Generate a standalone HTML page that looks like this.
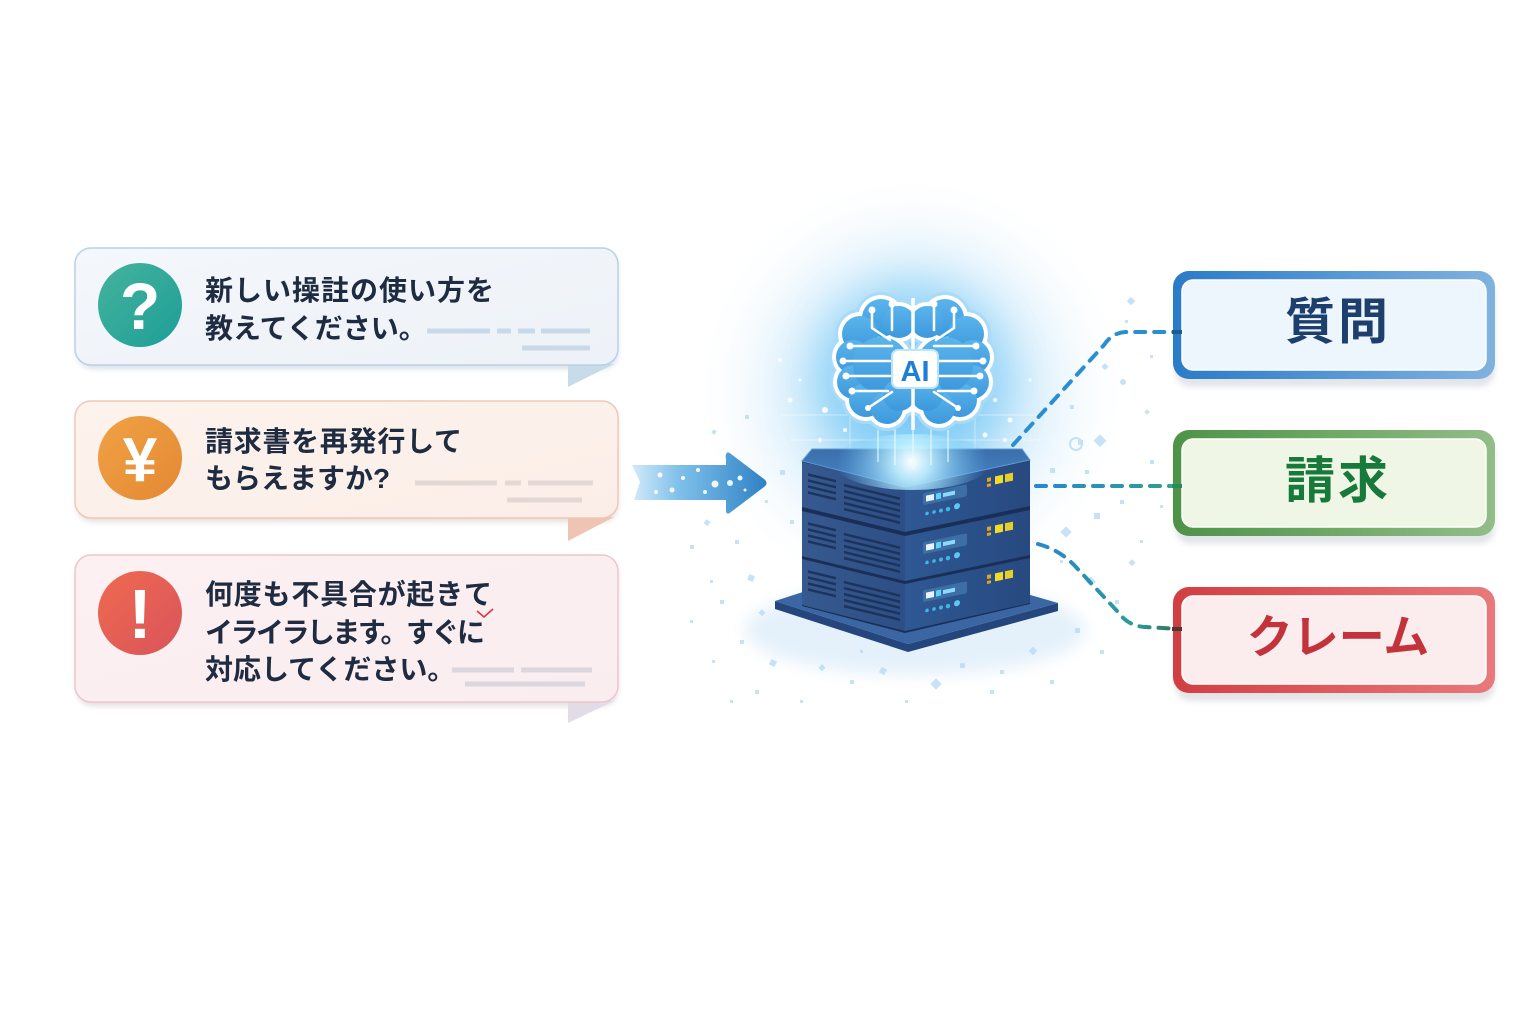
<!DOCTYPE html>
<html><head><meta charset="utf-8">
<style>
html,body{margin:0;padding:0;background:#fff;}
svg{display:block;}
text{font-family:"Liberation Sans","Noto Sans CJK JP",sans-serif;}
</style></head><body>
<svg width="1536" height="1024" viewBox="0 0 1536 1024" xmlns="http://www.w3.org/2000/svg">
<defs>
 <filter id="sh" x="-10%" y="-30%" width="120%" height="170%"><feGaussianBlur stdDeviation="3"/></filter>
 <filter id="bl8" x="-50%" y="-50%" width="200%" height="200%"><feGaussianBlur stdDeviation="8"/></filter>
 <filter id="bl20" x="-50%" y="-50%" width="200%" height="200%"><feGaussianBlur stdDeviation="20"/></filter>
 <radialGradient id="glow" cx="912" cy="390" r="220" gradientUnits="userSpaceOnUse">
  <stop offset="0" stop-color="#5fbdf3" stop-opacity="1"/>
  <stop offset="0.3" stop-color="#93d3f7" stop-opacity="0.8"/>
  <stop offset="0.65" stop-color="#d3ecfb" stop-opacity="0.5"/>
  <stop offset="1" stop-color="#ffffff" stop-opacity="0"/>
 </radialGradient>
 <radialGradient id="flare" cx="912" cy="462" r="75" gradientUnits="userSpaceOnUse">
  <stop offset="0" stop-color="#ffffff" stop-opacity="1"/>
  <stop offset="0.25" stop-color="#bff0ff" stop-opacity="0.9"/>
  <stop offset="1" stop-color="#5fc0f5" stop-opacity="0"/>
 </radialGradient>
 <linearGradient id="b1bg" x1="0" y1="0" x2="1" y2="1"><stop offset="0" stop-color="#f4f7fb"/><stop offset="1" stop-color="#edf2f8"/></linearGradient>
 <linearGradient id="b2bg" x1="0" y1="0" x2="1" y2="1"><stop offset="0" stop-color="#fdf3ec"/><stop offset="1" stop-color="#fbeee8"/></linearGradient>
 <linearGradient id="b3bg" x1="0" y1="0" x2="1" y2="1"><stop offset="0" stop-color="#fcf0f2"/><stop offset="1" stop-color="#faedf0"/></linearGradient>
 <linearGradient id="ic1" x1="0" y1="0" x2="1" y2="1"><stop offset="0" stop-color="#45b39c"/><stop offset="1" stop-color="#1d9e98"/></linearGradient>
 <linearGradient id="ic2" x1="0" y1="0" x2="1" y2="1"><stop offset="0" stop-color="#f0a245"/><stop offset="1" stop-color="#e48833"/></linearGradient>
 <linearGradient id="ic3" x1="0" y1="0" x2="1" y2="1"><stop offset="0" stop-color="#ef6a50"/><stop offset="1" stop-color="#d9545a"/></linearGradient>
 <linearGradient id="arr" x1="630" y1="0" x2="770" y2="0" gradientUnits="userSpaceOnUse">
  <stop offset="0" stop-color="#d6ecfa"/><stop offset="0.35" stop-color="#7fc0ea"/><stop offset="1" stop-color="#2b7fc4"/>
 </linearGradient>
 <linearGradient id="k1" x1="0" y1="0" x2="1" y2="0"><stop offset="0" stop-color="#2a7bc8"/><stop offset="1" stop-color="#80b2df"/></linearGradient>
 <linearGradient id="k2" x1="0" y1="0" x2="1" y2="0"><stop offset="0" stop-color="#4d9347"/><stop offset="1" stop-color="#92bd88"/></linearGradient>
 <linearGradient id="k3" x1="0" y1="0" x2="1" y2="0"><stop offset="0" stop-color="#d23e42"/><stop offset="1" stop-color="#e9797b"/></linearGradient>
 <linearGradient id="lf" x1="0" y1="0" x2="1" y2="0"><stop offset="0" stop-color="#36598f"/><stop offset="1" stop-color="#2d4e86"/></linearGradient>
 <linearGradient id="rf" x1="0" y1="0" x2="1" y2="0"><stop offset="0" stop-color="#2f5894"/><stop offset="1" stop-color="#27497f"/></linearGradient>
 <linearGradient id="tf" x1="0" y1="0" x2="0" y2="1"><stop offset="0" stop-color="#3b6eac"/><stop offset="1" stop-color="#4a86c6"/></linearGradient>
 <linearGradient id="brn" x1="0" y1="0" x2="0" y2="1"><stop offset="0" stop-color="#5ab4ec"/><stop offset="1" stop-color="#3d98dc"/></linearGradient>
 <linearGradient id="d2" x1="1035" y1="0" x2="1180" y2="0" gradientUnits="userSpaceOnUse"><stop offset="0" stop-color="#2a86d0"/><stop offset="1" stop-color="#2ba28c"/></linearGradient>
 <linearGradient id="d3" x1="1035" y1="0" x2="1180" y2="0" gradientUnits="userSpaceOnUse"><stop offset="0" stop-color="#2a86d0"/><stop offset="0.7" stop-color="#2a9c9a"/><stop offset="1" stop-color="#3b6a5a"/></linearGradient>
</defs>

<rect width="1536" height="1024" fill="#ffffff"/>

<!-- ================= BUBBLES ================= -->
<rect x="77" y="252" width="541" height="117" rx="16" fill="#d9e0e8" filter="url(#sh)"/>
<polygon points="568,364 614,364 568,387" fill="#c8dbe9"/>
<rect x="75" y="248" width="543" height="117" rx="16" fill="url(#b1bg)" stroke="#b7d1e6" stroke-width="1.5"/>
<circle cx="140" cy="305" r="42" fill="url(#ic1)"/>
<text x="140" y="329" text-anchor="middle" font-size="66" font-weight="bold" fill="#ffffff">?</text>
<g font-size="28" font-weight="bold" fill="#1e2b40">
 <text x="205" y="300" textLength="289" lengthAdjust="spacing">新しい操註の使い方を</text>
 <text x="205" y="338">教えてください。</text>
</g>
<g stroke="#c9d9e9" stroke-width="5">
 <line x1="427" y1="331" x2="490" y2="331"/><line x1="497" y1="331" x2="511" y2="331"/><line x1="518" y1="331" x2="535" y2="331"/><line x1="541" y1="331" x2="590" y2="331"/>
 <line x1="522" y1="348" x2="590" y2="348"/>
</g>

<rect x="77" y="405" width="541" height="117" rx="16" fill="#e6dedb" filter="url(#sh)"/>
<polygon points="568,517 614,517 568,541" fill="#efc4b2"/>
<rect x="75" y="401" width="543" height="117" rx="16" fill="url(#b2bg)" stroke="#eec8b6" stroke-width="1.5"/>
<circle cx="140" cy="458" r="42" fill="url(#ic2)"/>
<text x="140" y="481" text-anchor="middle" font-size="62" font-weight="bold" fill="#ffffff">¥</text>
<g font-size="28" font-weight="bold" fill="#1e2b40">
 <text x="205" y="451" textLength="257" lengthAdjust="spacing">請求書を再発行して</text>
 <text x="205" y="488">もらえますか?</text>
</g>
<g stroke="#e4d8d4" stroke-width="5">
 <line x1="415" y1="483" x2="497" y2="483"/><line x1="505" y1="483" x2="521" y2="483"/><line x1="528" y1="483" x2="593" y2="483"/>
 <line x1="507" y1="500" x2="582" y2="500"/>
</g>

<rect x="77" y="559" width="541" height="147" rx="16" fill="#e3dde2" filter="url(#sh)"/>
<polygon points="568,701 614,701 568,723" fill="#e2dce6"/>
<rect x="75" y="555" width="543" height="147" rx="16" fill="url(#b3bg)" stroke="#ebc6cd" stroke-width="1.5"/>
<circle cx="140" cy="613" r="42" fill="url(#ic3)"/>
<text x="140" y="638" text-anchor="middle" font-size="70" font-weight="bold" fill="#ffffff">!</text>
<g font-size="28" font-weight="bold" fill="#1e2b40">
 <text x="205" y="604" textLength="287" lengthAdjust="spacing">何度も不具合が起きて</text>
 <text x="205" y="642" textLength="280" lengthAdjust="spacing">イライラします。すぐに</text>
 <text x="205" y="679">対応してください。</text>
</g>
<path d="M477,611 L484,617 L493,609" fill="none" stroke="#e0343a" stroke-width="1.6"/>
<g stroke="#dcd6de" stroke-width="5">
 <line x1="452" y1="670" x2="514" y2="670"/><line x1="521" y1="670" x2="592" y2="670"/>
 <line x1="465" y1="684" x2="585" y2="684"/>
</g>

<!-- ================= GLOW ================= -->
<ellipse cx="912" cy="395" rx="235" ry="215" fill="url(#glow)"/>
<circle cx="912" cy="380" r="95" fill="#7ccbf6" opacity="0.55" filter="url(#bl20)"/>
<ellipse cx="915" cy="630" rx="170" ry="45" fill="#dcecf9" opacity="0.75" filter="url(#bl8)"/>

<!-- particles -->
<g fill="#b5d9f3" opacity="0.75">
 <rect x="712" y="430" width="4" height="4" transform="rotate(30 714 432)"/>
 <rect x="725" y="455" width="3" height="3"/>
 <rect x="705" y="520" width="5" height="5" transform="rotate(40 707 522)"/>
 <rect x="735" y="540" width="4" height="4"/>
 <rect x="748" y="575" width="6" height="6" transform="rotate(20 751 578)"/>
 <rect x="720" y="600" width="4" height="4"/>
 <rect x="760" y="610" width="5" height="5" transform="rotate(45 762 612)"/>
 <rect x="740" y="640" width="4" height="4"/>
 <rect x="712" y="660" width="3" height="3"/>
 <rect x="770" y="660" width="6" height="6" transform="rotate(30 773 663)"/>
 <rect x="755" y="690" width="4" height="4"/>
 <rect x="730" y="700" width="3" height="3"/>
 <rect x="790" y="520" width="4" height="4"/>
 <rect x="780" y="470" width="5" height="5"/>
 <rect x="765" y="500" width="3" height="3"/>
 <rect x="700" y="480" width="3" height="3"/>
 <rect x="745" y="415" width="4" height="4"/>
 <rect x="710" y="580" width="3" height="3"/>
 <rect x="690" y="620" width="3" height="3"/>
 <rect x="820" y="665" width="5" height="5" transform="rotate(45 822 667)"/>
 <rect x="850" y="680" width="4" height="4"/>
 <rect x="880" y="668" width="6" height="6" transform="rotate(30 883 671)"/>
 <rect x="932" y="680" width="8" height="8" transform="rotate(45 936 684)"/>
 <rect x="960" y="663" width="5" height="5"/>
 <rect x="1000" y="670" width="4" height="4"/>
 <rect x="1030" y="648" width="6" height="6" transform="rotate(45 1033 651)"/>
 <rect x="1050" y="680" width="4" height="4"/>
 <rect x="905" y="700" width="3" height="3"/>
 <rect x="990" y="690" width="4" height="4"/>
 <rect x="860" y="650" width="3" height="3"/>
 <rect x="1050" y="468" width="5" height="5"/>
 <rect x="1062" y="528" width="8" height="8" transform="rotate(45 1066 532)"/>
 <rect x="1078" y="440" width="5" height="5"/>
 <rect x="1096" y="436" width="9" height="9" transform="rotate(45 1100 440)"/>
 <rect x="1070" y="405" width="4" height="4"/>
 <rect x="1088" y="578" width="7" height="7" transform="rotate(45 1091 581)"/>
 <rect x="1115" y="600" width="4" height="4"/>
 <rect x="1075" y="628" width="5" height="5"/>
 <rect x="1060" y="560" width="3" height="3"/>
 <rect x="1120" y="500" width="4" height="4"/>
 <rect x="1103" y="364" width="5" height="5" transform="rotate(45 1105 366)"/>
 <rect x="1128" y="298" width="6" height="6" transform="rotate(45 1131 301)"/>
 <rect x="1125" y="320" width="3" height="3"/>
 <rect x="1085" y="470" width="4" height="4"/>
 <rect x="1094" y="513" width="6" height="6"/>
 <rect x="1140" y="540" width="3" height="3"/>
 <rect x="1100" y="650" width="4" height="4"/>
 <rect x="1145" y="410" width="4" height="4" transform="rotate(45 1147 412)"/>
 <rect x="1150" y="355" width="3" height="3"/>
 <circle cx="1123" cy="382" r="3"/>
 <circle cx="1076" cy="444" r="6" fill="none" stroke="#b5d9f3" stroke-width="2"/>
 <rect x="1150" y="460" width="4" height="4"/>
 <rect x="1160" y="505" width="3" height="3"/>
 <rect x="1130" y="560" width="5" height="5" transform="rotate(45 1132 562)"/>
 <rect x="800" y="700" width="3" height="3"/>
 <rect x="690" y="545" width="4" height="4"/>
</g>
<g fill="#ffffff" opacity="0.9">
 <circle cx="790" cy="400" r="2.5"/><circle cx="800" cy="380" r="1.5"/><circle cx="1010" cy="420" r="2.5"/>
 <circle cx="1030" cy="380" r="1.5"/><circle cx="820" cy="440" r="2"/><circle cx="1005" cy="440" r="2"/>
 <circle cx="780" cy="360" r="2"/><circle cx="825" cy="410" r="3"/><circle cx="995" cy="400" r="2"/>
 <circle cx="845" cy="430" r="2"/><circle cx="985" cy="435" r="2.5"/><circle cx="810" cy="455" r="2"/>
</g>
<g stroke="#ffffff" stroke-width="1" opacity="0.45">
 <line x1="780" y1="415" x2="1045" y2="415"/><line x1="790" y1="440" x2="1040" y2="440"/>
 <line x1="850" y1="400" x2="850" y2="460"/><line x1="975" y1="400" x2="975" y2="460"/>
</g>

<!-- ================= ARROW ================= -->
<path d="M632,465 L726,465 L726,456 Q726,450 731,454 L764,479 Q769,483 764,487 L731,512 Q726,516 726,510 L726,500 L634,500 L640,482 Z" fill="url(#arr)"/>
<g fill="#ffffff" opacity="0.9">
 <circle cx="660" cy="475" r="2.5"/><circle cx="683" cy="478" r="2"/><circle cx="698" cy="470" r="2"/>
 <circle cx="715" cy="484" r="3.5"/><circle cx="730" cy="483" r="3"/><circle cx="740" cy="478" r="2.5"/>
 <circle cx="656" cy="492" r="2"/><circle cx="672" cy="490" r="2.5"/><circle cx="705" cy="492" r="2"/><circle cx="745" cy="490" r="1.5"/>
</g>

<!-- ================= CONNECTORS ================= -->
<g fill="none" stroke-width="4" stroke-linecap="round" stroke-dasharray="10 9">
 <path d="M1013,445 L1104,345 Q1112,333 1125,332 L1180,332" stroke="#2b8ed0"/>
 <path d="M1036,486 L1180,486" stroke="url(#d2)"/>
 <path d="M1038,544 Q1060,550 1075,566 L1118,612 Q1128,626 1145,627 L1180,629" stroke="url(#d3)"/>
</g>

<!-- ================= SERVER ================= -->
<polygon points="775,601 908,644 1058,603 1058,611 908,652 775,609" fill="#24467c"/>
<polygon points="775,601 905,559 1058,603 908,644" fill="#3a66a4"/>

<!-- dark silhouette so gaps are dark -->
<polygon points="802,461 812,449 1022,449 1030,460 1030,604 905,633 802,606" fill="#1a2f57"/>

<polygon points="802,559 905,584 905,631 802,605" fill="url(#lf)"/>
<polygon points="905,584 1030,558 1030,603 905,631" fill="url(#rf)"/>
<polygon points="802,511 905,536 905,581 802,556" fill="url(#lf)"/>
<polygon points="905,536 1030,510 1030,555 905,581" fill="url(#rf)"/>
<polygon points="802,462 905,487 905,532 802,507" fill="url(#lf)"/>
<polygon points="905,487 1030,461 1030,506 905,532" fill="url(#rf)"/>
<polygon points="802,461 812,449 1022,449 1030,460 905,487" fill="url(#tf)" stroke="#5c9ad6" stroke-width="1"/>

<g>
 <g transform="translate(802,462) skewY(13.6)" stroke="#1c335c" stroke-width="2.5">
  <line x1="6" y1="11" x2="34" y2="11"/><line x1="6" y1="17" x2="34" y2="17"/><line x1="6" y1="23" x2="34" y2="23"/><line x1="6" y1="29" x2="34" y2="29"/>
  <line x1="42" y1="13" x2="98" y2="13"/><line x1="42" y1="19" x2="98" y2="19"/><line x1="42" y1="25" x2="98" y2="25"/><line x1="42" y1="31" x2="98" y2="31"/><line x1="42" y1="37" x2="98" y2="37"/>
 </g>
 <g transform="translate(905,487) skewY(-11.7)">
  <rect x="18" y="10" width="44" height="12" rx="2" fill="#3c6fa6"/>
  <rect x="21" y="13" width="8" height="6" fill="#e8f4ff"/>
  <rect x="31" y="13" width="5" height="6" fill="#5fd0ff"/>
  <rect x="38" y="14" width="12" height="4" fill="#8fd8ff"/>
  <circle cx="22" cy="31" r="1.8" fill="#3fb6e8"/><circle cx="29" cy="31" r="1.8" fill="#3fb6e8"/><circle cx="36" cy="31" r="2" fill="#3fb6e8"/><circle cx="43" cy="31" r="2.2" fill="#3fb6e8"/><circle cx="52" cy="30" r="3" fill="#5cc8f5"/>
  <rect x="82" y="8" width="4" height="4" fill="#e8a22a"/><rect x="82" y="14" width="4" height="3" fill="#e8a22a"/>
  <rect x="90" y="8" width="8" height="8" fill="#f2dc2a"/><rect x="100" y="8" width="8" height="8" fill="#e8cf26"/>
 </g>
</g>
<g transform="translate(0,49)">
 <g transform="translate(802,462) skewY(13.6)" stroke="#1c335c" stroke-width="2.5">
  <line x1="6" y1="11" x2="34" y2="11"/><line x1="6" y1="17" x2="34" y2="17"/><line x1="6" y1="23" x2="34" y2="23"/><line x1="6" y1="29" x2="34" y2="29"/>
  <line x1="42" y1="13" x2="98" y2="13"/><line x1="42" y1="19" x2="98" y2="19"/><line x1="42" y1="25" x2="98" y2="25"/><line x1="42" y1="31" x2="98" y2="31"/><line x1="42" y1="37" x2="98" y2="37"/>
 </g>
 <g transform="translate(905,487) skewY(-11.7)">
  <rect x="18" y="10" width="44" height="12" rx="2" fill="#3c6fa6"/>
  <rect x="21" y="13" width="8" height="6" fill="#e8f4ff"/>
  <rect x="31" y="13" width="5" height="6" fill="#5fd0ff"/>
  <rect x="38" y="14" width="12" height="4" fill="#8fd8ff"/>
  <circle cx="22" cy="31" r="1.8" fill="#3fb6e8"/><circle cx="29" cy="31" r="1.8" fill="#3fb6e8"/><circle cx="36" cy="31" r="2" fill="#3fb6e8"/><circle cx="43" cy="31" r="2.2" fill="#3fb6e8"/><circle cx="52" cy="30" r="3" fill="#5cc8f5"/>
  <rect x="82" y="8" width="4" height="4" fill="#e8a22a"/><rect x="82" y="14" width="4" height="3" fill="#e8a22a"/>
  <rect x="90" y="8" width="8" height="8" fill="#f2dc2a"/><rect x="100" y="8" width="8" height="8" fill="#e8cf26"/>
 </g>
</g>
<g transform="translate(0,97)">
 <g transform="translate(802,462) skewY(13.6)" stroke="#1c335c" stroke-width="2.5">
  <line x1="6" y1="11" x2="34" y2="11"/><line x1="6" y1="17" x2="34" y2="17"/><line x1="6" y1="23" x2="34" y2="23"/><line x1="6" y1="29" x2="34" y2="29"/>
  <line x1="42" y1="13" x2="98" y2="13"/><line x1="42" y1="19" x2="98" y2="19"/><line x1="42" y1="25" x2="98" y2="25"/><line x1="42" y1="31" x2="98" y2="31"/><line x1="42" y1="37" x2="98" y2="37"/>
 </g>
 <g transform="translate(905,487) skewY(-11.7)">
  <rect x="18" y="10" width="44" height="12" rx="2" fill="#3c6fa6"/>
  <rect x="21" y="13" width="8" height="6" fill="#e8f4ff"/>
  <rect x="31" y="13" width="5" height="6" fill="#5fd0ff"/>
  <rect x="38" y="14" width="12" height="4" fill="#8fd8ff"/>
  <circle cx="22" cy="31" r="1.8" fill="#3fb6e8"/><circle cx="29" cy="31" r="1.8" fill="#3fb6e8"/><circle cx="36" cy="31" r="2" fill="#3fb6e8"/><circle cx="43" cy="31" r="2.2" fill="#3fb6e8"/><circle cx="52" cy="30" r="3" fill="#5cc8f5"/>
  <rect x="82" y="8" width="4" height="4" fill="#e8a22a"/><rect x="82" y="14" width="4" height="3" fill="#e8a22a"/>
  <rect x="90" y="8" width="8" height="8" fill="#f2dc2a"/><rect x="100" y="8" width="8" height="8" fill="#e8cf26"/>
 </g>
</g>

<ellipse cx="912" cy="462" rx="80" ry="28" fill="url(#flare)"/>
<g stroke="#e8fbff" stroke-width="1.5" opacity="0.75">
 <line x1="913" y1="420" x2="913" y2="470"/>
 <line x1="895" y1="425" x2="895" y2="465"/><line x1="931" y1="425" x2="931" y2="465"/>
 <line x1="878" y1="430" x2="878" y2="462"/><line x1="948" y1="430" x2="948" y2="462"/>
</g>

<!-- ================= BRAIN ================= -->
<g fill="#a9daf7">
 <circle cx="881" cy="318" r="26"/><circle cx="860" cy="334" r="25"/><circle cx="853" cy="357" r="24"/><circle cx="854" cy="382" r="24"/><circle cx="866" cy="400" r="24"/><circle cx="887" cy="408" r="23"/><circle cx="899" cy="322" r="23"/><circle cx="881" cy="365" r="35"/><circle cx="900" cy="395" r="23"/>
 <circle cx="945" cy="318" r="26"/><circle cx="966" cy="334" r="25"/><circle cx="973" cy="357" r="24"/><circle cx="972" cy="382" r="24"/><circle cx="960" cy="400" r="24"/><circle cx="939" cy="408" r="23"/><circle cx="927" cy="322" r="23"/><circle cx="945" cy="365" r="35"/><circle cx="926" cy="395" r="23"/>
</g>
<g fill="#ffffff">
 <circle cx="881" cy="318" r="23"/><circle cx="860" cy="334" r="22"/><circle cx="853" cy="357" r="21"/><circle cx="854" cy="382" r="21"/><circle cx="866" cy="400" r="21"/><circle cx="887" cy="408" r="20"/><circle cx="899" cy="322" r="20"/><circle cx="881" cy="365" r="32"/><circle cx="900" cy="395" r="20"/>
 <circle cx="945" cy="318" r="23"/><circle cx="966" cy="334" r="22"/><circle cx="973" cy="357" r="21"/><circle cx="972" cy="382" r="21"/><circle cx="960" cy="400" r="21"/><circle cx="939" cy="408" r="20"/><circle cx="927" cy="322" r="20"/><circle cx="945" cy="365" r="32"/><circle cx="926" cy="395" r="20"/>
</g>
<g fill="url(#brn)">
 <circle cx="881" cy="318" r="19"/><circle cx="860" cy="334" r="18"/><circle cx="853" cy="357" r="17"/><circle cx="854" cy="382" r="17"/><circle cx="866" cy="400" r="17"/><circle cx="887" cy="408" r="16"/><circle cx="899" cy="322" r="16"/><circle cx="881" cy="365" r="28"/><circle cx="899" cy="395" r="16"/>
 <circle cx="945" cy="318" r="19"/><circle cx="966" cy="334" r="18"/><circle cx="973" cy="357" r="17"/><circle cx="972" cy="382" r="17"/><circle cx="960" cy="400" r="17"/><circle cx="939" cy="408" r="16"/><circle cx="927" cy="322" r="16"/><circle cx="945" cy="365" r="28"/><circle cx="927" cy="395" r="16"/>
</g>
<line x1="913" y1="298" x2="913" y2="430" stroke="#ffffff" stroke-width="3.5"/>
<g stroke="#ffffff" stroke-width="2.5" fill="none" stroke-linecap="round">
 <path d="M850,346 L892,346"/><path d="M843,361 L890,361"/><path d="M846,376 L890,376"/><path d="M852,391 L888,391"/>
 <path d="M872,310 L872,328 L890,340"/><path d="M892,304 L892,330"/><path d="M868,408 L892,392"/>
 <path d="M976,346 L934,346"/><path d="M983,361 L936,361"/><path d="M980,376 L936,376"/><path d="M974,391 L938,391"/>
 <path d="M954,310 L954,328 L936,340"/><path d="M934,304 L934,330"/><path d="M958,408 L934,392"/>
</g>
<g fill="#ffffff">
 <circle cx="850" cy="346" r="3.5"/><circle cx="843" cy="361" r="3.5"/><circle cx="846" cy="376" r="3.5"/><circle cx="852" cy="391" r="3.5"/>
 <circle cx="872" cy="310" r="3.5"/><circle cx="892" cy="304" r="3.5"/><circle cx="868" cy="408" r="3"/>
 <circle cx="976" cy="346" r="3.5"/><circle cx="983" cy="361" r="3.5"/><circle cx="980" cy="376" r="3.5"/><circle cx="974" cy="391" r="3.5"/>
 <circle cx="954" cy="310" r="3.5"/><circle cx="934" cy="304" r="3.5"/><circle cx="958" cy="408" r="3"/>
</g>
<rect x="892" y="350" width="46" height="38" rx="6" fill="#ffffff" stroke="#bfe4fa" stroke-width="2"/>
<text x="915" y="381" text-anchor="middle" font-size="29" font-weight="bold" fill="#1d7fd6">AI</text>

<!-- ================= CATEGORY BOXES ================= -->
<rect x="1175" y="279" width="320" height="108" rx="16" fill="#e2e5ea" filter="url(#sh)"/>
<rect x="1173" y="271" width="322" height="108" rx="16" fill="url(#k1)"/>
<rect x="1182" y="280" width="304" height="90" rx="11" fill="#edf5fd" stroke="#ffffff" stroke-width="1.5"/>
<text x="1338" y="339" text-anchor="middle" font-size="50" font-weight="bold" fill="#1d3f6d" letter-spacing="3">質問</text>

<rect x="1175" y="438" width="320" height="106" rx="16" fill="#e2e5ea" filter="url(#sh)"/>
<rect x="1173" y="430" width="322" height="106" rx="16" fill="url(#k2)"/>
<rect x="1182" y="439" width="304" height="88" rx="11" fill="#f0f6e6" stroke="#ffffff" stroke-width="1.5"/>
<text x="1338" y="498" text-anchor="middle" font-size="50" font-weight="bold" fill="#177a3a" letter-spacing="3">請求</text>

<rect x="1175" y="595" width="320" height="106" rx="16" fill="#e4e4e8" filter="url(#sh)"/>
<rect x="1173" y="587" width="322" height="106" rx="16" fill="url(#k3)"/>
<rect x="1182" y="596" width="304" height="88" rx="11" fill="#fbecee" stroke="#ffffff" stroke-width="1.5"/>
<text x="1338" y="653" text-anchor="middle" font-size="46" font-weight="bold" fill="#c2333b">クレーム</text>

<line x1="1172" y1="332" x2="1182" y2="332" stroke="#1d5b8a" stroke-width="4"/>
<line x1="1172" y1="486" x2="1182" y2="486" stroke="#2a8a5a" stroke-width="4"/>
<line x1="1172" y1="629" x2="1182" y2="629" stroke="#4a3a36" stroke-width="4"/>
</svg>
</body></html>
